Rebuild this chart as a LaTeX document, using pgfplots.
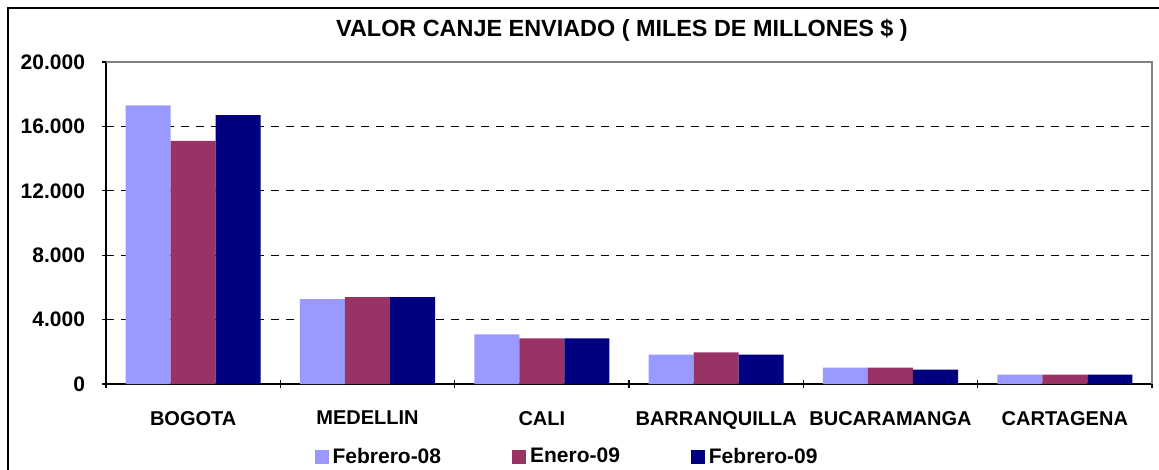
\documentclass[border=0pt]{standalone}
\usepackage{pgfplots}
\pgfplotsset{compat=1.18}
\usepackage{fontspec}
\setmainfont{Liberation Sans}

\definecolor{feb08}{HTML}{9999FF}
\definecolor{ene09}{HTML}{993366}
\definecolor{feb09}{HTML}{000080}

\begin{document}
\begin{tikzpicture}
  \useasboundingbox (0,0) rectangle (579.5bp,235bp);
  % outer chart frame (left and top visible)
  \draw[black, line width=1bp] (4bp,0) -- (4bp,231bp) -- (579.5bp,231bp);
  \node[font=\fontsize{11.7bp}{13bp}\selectfont\bfseries] at (311bp,220bp)
    {VALOR CANJE ENVIADO ( MILES DE MILLONES \$ )};

  \begin{axis}[
      at={(53bp,43bp)}, anchor=south west,
      scale only axis,
      width=523bp, height=161bp,
      ybar=0pt, bar width=22.5bp,
      xmin=-0.5, xmax=5.5,
      ymin=0, ymax=20000,
      xtick={0,1,2,3,4,5},
      xticklabels={BOGOTA,MEDELLIN,CALI,BARRANQUILLA,BUCARAMANGA,CARTAGENA},
      minor xtick={-0.5,0.5,1.5,2.5,3.5,4.5,5.5},
      major x tick style={draw=none},
      minor tick length=4bp,
      major tick length=4bp,
      tick align=outside,
      ytick={0,4000,8000,12000,16000,20000},
      ymajorgrids,
      major grid style={black, dash pattern=on 4bp off 3.5bp, line width=0.5bp},
      axis x line=bottom, axis y line=left,
      axis line style={-, black, line width=0.7bp},
      tick style={black, line width=0.6bp},
      /pgf/number format/assume math mode=true,
      /pgf/number format/1000 sep={.},
      scaled y ticks=false,
      y tick label style={font=\fontsize{10.5bp}{12bp}\selectfont\bfseries, xshift=-5bp},
      x tick label style={font=\fontsize{10bp}{12bp}\selectfont\bfseries, yshift=-8bp},
      legend columns=3,
      legend style={at={(0.4417,-0.2267)}, anchor=center, draw=none, fill=none,
        font=\fontsize{10.5bp}{12bp}\selectfont\bfseries,
        /tikz/every even column/.append style={column sep=33.5bp}},
      legend image code/.code={\fill[#1] (0bp,-3.5bp) rectangle (7bp,3.5bp);},
      clip=false,
    ]
    \addplot[fill=feb08, draw=none] coordinates {
      (0,17300) (1,5270) (2,3080) (3,1830) (4,1020) (5,580)};
    \addplot[fill=ene09, draw=none] coordinates {
      (0,15100) (1,5400) (2,2830) (3,1960) (4,1020) (5,580)};
    \addplot[fill=feb09, draw=none] coordinates {
      (0,16700) (1,5400) (2,2830) (3,1830) (4,900) (5,580)};
    \legend{Febrero-08,Enero-09,Febrero-09}
    \draw[gray, line width=1bp] (rel axis cs:0,1) -- (rel axis cs:1,1) -- (rel axis cs:1,0);
  \end{axis}
\end{tikzpicture}
\end{document}
